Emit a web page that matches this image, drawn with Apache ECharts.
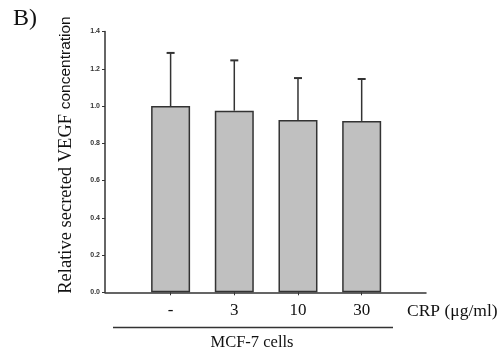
<!DOCTYPE html>
<html>
<head>
<meta charset="utf-8">
<script src="https://cdn.jsdelivr.net/npm/echarts@6/dist/echarts.min.js"></script>
<style>
  html, body { margin: 0; padding: 0; background: #fff; }
  #chart { width: 502px; height: 359px; }
</style>
</head>
<body>
<div id="chart"></div>
<script>
// CRP doses applied to MCF-7 cells
var doses = ['-', '3', '10', '30'];
// Relative secreted VEGF (mean) and upper error (SD)
var vegfMean = [1.00, 0.975, 0.925, 0.92];
var vegfErr = [0.285, 0.27, 0.225, 0.225];

var positions = doses.map(function (d, i) { return i; });
var barData = doses.map(function (d, i) { return [i, vegfMean[i]]; });
var errData = doses.map(function (d, i) { return [i, vegfMean[i], vegfMean[i] + vegfErr[i]]; });

var serif = '"Liberation Serif", "DejaVu Serif", serif';
var sans = '"Liberation Sans", Arial, sans-serif';

var chart = echarts.init(document.getElementById('chart'), null, { renderer: 'canvas' });
chart.setOption({
  animation: false,
  backgroundColor: '#fff',
  grid: { left: 105, right: 76, top: 31.5, bottom: 66.7 },
  xAxis: {
    type: 'value',
    min: -1.03,
    max: 4.01,
    splitLine: { show: false },
    axisLine: { show: true, onZero: false, lineStyle: { color: '#333', width: 1.5 } },
    axisTick: { show: true, customValues: positions, length: 3, inside: false, lineStyle: { color: '#333', width: 1 } },
    axisLabel: {
      customValues: positions,
      margin: 10,
      color: '#111',
      fontFamily: serif,
      fontSize: 17,
      formatter: function (v) { return doses[Math.round(v)]; }
    }
  },
  yAxis: {
    type: 'value',
    min: 0,
    max: 1.4,
    interval: 0.2,
    splitLine: { show: false },
    axisLine: { show: true, onZero: false, lineStyle: { color: '#333', width: 1.5 } },
    axisTick: { show: true, length: 3, lineStyle: { color: '#333', width: 1 } },
    axisLabel: {
      margin: 5,
      color: '#333',
      fontFamily: sans,
      fontSize: 7,
      fontWeight: 'bold',
      formatter: function (v) { return v.toFixed(1); }
    }
  },
  series: [
    {
      type: 'bar',
      data: barData,
      barWidth: 39,
      itemStyle: { color: '#c0c0c0', borderColor: '#333', borderWidth: 1.5 }
    },
    {
      type: 'custom',
      data: errData,
      z: 1,
      renderItem: function (params, api) {
        var x = api.value(0);
        var base = api.coord([x, api.value(1)]);
        var top = api.coord([x, api.value(2)]);
        var half = 4;
        return {
          type: 'group',
          children: [
            { type: 'line', shape: { x1: base[0], y1: base[1], x2: top[0], y2: top[1] },
              style: { stroke: '#333', lineWidth: 1.5 } },
            { type: 'line', shape: { x1: top[0] - half, y1: top[1], x2: top[0] + half, y2: top[1] },
              style: { stroke: '#333', lineWidth: 2 } }
          ]
        };
      }
    }
  ],
  graphic: [
    { type: 'text', left: 13, top: 7, style: { text: 'B)', font: '24px ' + serif, fill: '#111' } },
    {
      type: 'text', x: 66, y: 155, rotation: Math.PI / 2,
      style: {
        text: '{a|Relative secreted VEGF }{b|concentration}',
        align: 'center', verticalAlign: 'middle',
        rich: {
          a: { fontFamily: serif, fontSize: 18.5, fill: '#111' },
          b: { fontFamily: sans, fontSize: 15.5, fill: '#111' }
        }
      }
    },
    { type: 'text', left: 407, top: 302, style: { text: 'CRP (\u03bcg/ml)', font: '17.5px ' + serif, fill: '#111' } },
    { type: 'line', shape: { x1: 113, y1: 327.5, x2: 393, y2: 327.5 }, style: { stroke: '#333', lineWidth: 1.3 } },
    { type: 'text', x: 252, y: 334, style: { text: 'MCF-7 cells', font: '16.5px ' + serif, fill: '#111', align: 'center', verticalAlign: 'top' } }
  ]
});
</script>
</body>
</html>
